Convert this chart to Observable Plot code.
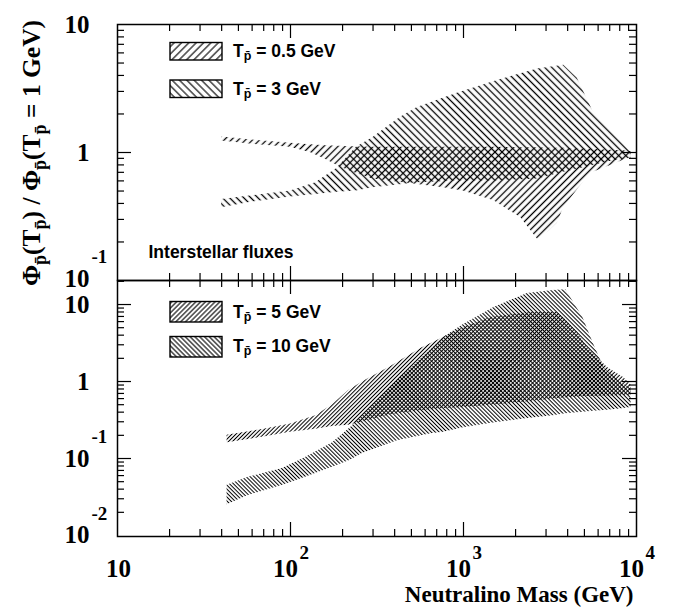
<!DOCTYPE html>
<html><head><meta charset="utf-8">
<script src="https://cdn.jsdelivr.net/npm/d3@7"></script>
<script src="https://cdn.jsdelivr.net/npm/@observablehq/plot@0.6"></script>
<style>
body{margin:0;background:#fff;}
#wrap{position:relative;width:678px;height:607px;overflow:hidden;background:#fff;}
#wrap svg{position:absolute;left:0;overflow:visible;}
</style></head><body>
<svg width="0" height="0" style="position:absolute">
<defs>
 <pattern id="hTopF" patternUnits="userSpaceOnUse" width="5" height="5" patternTransform="rotate(45)"><line x1="2.5" y1="0" x2="2.5" y2="5" stroke="#000" stroke-width="1.3"/></pattern>
 <pattern id="hTopB" patternUnits="userSpaceOnUse" width="5" height="5" patternTransform="rotate(-45)"><line x1="2.5" y1="0" x2="2.5" y2="5" stroke="#000" stroke-width="1.3"/></pattern>
 <pattern id="hBotF" patternUnits="userSpaceOnUse" width="2.8" height="2.8" patternTransform="rotate(45)"><line x1="1.4" y1="0" x2="1.4" y2="2.8" stroke="#000" stroke-width="1"/></pattern>
 <pattern id="hBotB" patternUnits="userSpaceOnUse" width="2.8" height="2.8" patternTransform="rotate(-45)"><line x1="1.4" y1="0" x2="1.4" y2="2.8" stroke="#000" stroke-width="1"/></pattern>
 <pattern id="lgTopF" patternUnits="userSpaceOnUse" width="5.2" height="5.2" patternTransform="rotate(45)"><line x1="2.6" y1="0" x2="2.6" y2="5.2" stroke="#000" stroke-width="1.1"/></pattern>
 <pattern id="lgTopB" patternUnits="userSpaceOnUse" width="5.2" height="5.2" patternTransform="rotate(-45)"><line x1="2.6" y1="0" x2="2.6" y2="5.2" stroke="#000" stroke-width="1.1"/></pattern>
 <pattern id="lgBotF" patternUnits="userSpaceOnUse" width="3.4" height="3.4" patternTransform="rotate(45)"><line x1="1.7" y1="0" x2="1.7" y2="3.4" stroke="#000" stroke-width="1.1"/></pattern>
 <pattern id="lgBotB" patternUnits="userSpaceOnUse" width="3.4" height="3.4" patternTransform="rotate(-45)"><line x1="1.7" y1="0" x2="1.7" y2="3.4" stroke="#000" stroke-width="1.1"/></pattern>
</defs></svg>
<div id="wrap"></div>
<script>
// ---------- DATA ----------
// Top panel (interstellar fluxes): ratio bands vs neutralino mass (GeV)
const massT05 = [40, 60, 100, 130, 160, 190, 230, 300, 500, 770, 1000, 1500, 2140, 2680, 3100, 3490, 3790, 4500, 5420, 7080, 8400, 9300];
const hiT05   = [1.32, 1.25, 1.18, 1.15, 1.13, 1.12, 1.11, 1.1, 1.1, 1.1, 1.1, 1.1, 1.09, 1.09, 1.08, 1.08, 1.08, 1.07, 1.06, 1.04, 1.03, 1.02];
const loT05   = [1.23, 1.16, 1.1, 1.0, 0.88, 0.78, 0.7, 0.62, 0.57, 0.53, 0.5, 0.42, 0.31, 0.21, 0.24, 0.28, 0.37, 0.5, 0.69, 0.79, 0.87, 0.9];

const massT3 = [40, 60, 100, 140, 185, 240, 300, 430, 540, 920, 1570, 2680, 3800, 4550, 5600, 7000, 8200, 9300];
const hiT3   = [0.43, 0.46, 0.5, 0.58, 0.75, 1.1, 1.31, 1.88, 2.25, 2.9, 3.65, 4.5, 4.8, 3.8, 2.1, 1.5, 1.2, 1.0];
const loT3   = [0.37, 0.41, 0.45, 0.47, 0.49, 0.5, 0.53, 0.56, 0.58, 0.6, 0.6, 0.62, 0.7, 0.74, 0.79, 0.85, 0.88, 0.9];

// Bottom panel
const massT5 = [43, 70, 100, 140, 175, 216, 263, 378, 570, 720, 810, 1000, 1430, 2440, 3490, 3790, 4500, 5210, 6790, 8420, 9300];
const hiT5   = [0.2, 0.24, 0.28, 0.36, 0.5, 0.76, 1.0, 1.55, 2.7, 3.5, 4.0, 5.0, 6.8, 7.9, 7.9, 6.8, 4.5, 2.76, 1.52, 1.13, 0.9];
const loT5   = [0.16, 0.19, 0.22, 0.24, 0.26, 0.27, 0.3, 0.37, 0.42, 0.44, 0.45, 0.46, 0.49, 0.55, 0.6, 0.61, 0.63, 0.64, 0.65, 0.66, 0.66];

const massT10 = [43, 57, 90, 122, 175, 222, 260, 415, 650, 765, 1000, 1490, 2340, 3300, 3900, 4900, 5640, 6500, 8000, 9300];
const hiT10   = [0.045, 0.057, 0.074, 0.103, 0.16, 0.25, 0.36, 1.03, 2.6, 3.7, 5.5, 9.1, 13.9, 15.2, 15.5, 6.8, 3.1, 1.5, 1.0, 0.8];
const loT10   = [0.025, 0.033, 0.045, 0.057, 0.077, 0.095, 0.116, 0.17, 0.21, 0.22, 0.25, 0.29, 0.33, 0.36, 0.38, 0.4, 0.41, 0.42, 0.44, 0.46];

// Ticks and labels
const xMajor = [100, 1000];
const xMinor = [20, 30, 40, 50, 60, 70, 80, 90, 200, 300, 400, 500, 600, 700, 800, 900, 2000, 3000, 4000, 5000, 6000, 7000, 8000, 9000];
const yMajorTop = [1];
const yMinorTop = [0.2, 0.3, 0.4, 0.5, 0.6, 0.7, 0.8, 0.9, 2, 3, 4, 5, 6, 7, 8, 9];
const yMajorBot = [0.1, 1, 10];
const yMinorBot = [0.02, 0.03, 0.04, 0.05, 0.06, 0.07, 0.08, 0.09, 0.2, 0.3, 0.4, 0.5, 0.6, 0.7, 0.8, 0.9, 2, 3, 4, 5, 6, 7, 8, 9, 20];
const xLabelPlain = [10];
const xLabelPow = [100, 1000, 10000];
const xLabelExp = ["2", "3", "4"];
const yLabelsTop = [{v: 10, base: "10", exp: ""}, {v: 1, base: "1", exp: ""}];
const yLabelsTopLow = [{v: 0.1, base: "10", exp: "-1"}];
const yLabelsBot = [{v: 10, base: "10", exp: ""}, {v: 1, base: "1", exp: ""}, {v: 0.1, base: "10", exp: "-1"}, {v: 0.01, base: "10", exp: "-2"}];
const legendTop = ["= 0.5 GeV", "= 3 GeV"];
const legendBot = ["= 5 GeV", "= 10 GeV"];

// ---------- BUILD ----------
const band = (ms, lo, hi) => ms.map((m, i) => ({m, lo: lo[i], hi: hi[i]}));
const serif = "'Liberation Serif', 'Times New Roman', serif";
const sans = "'Liberation Sans', Arial, sans-serif";
const W = 678, ML = 117, MR = 42, FH = 256;
const FW = W - ML - MR;
const MAJ = 14, MIN = 7;

function tickMarks(yMaj, yMin) {
  const sw = 1.2;
  return [
    Plot.tickX(xMinor, {x: d => d, insetBottom: FH - MIN, stroke: "#000", strokeWidth: sw}),
    Plot.tickX(xMinor, {x: d => d, insetTop: FH - MIN, stroke: "#000", strokeWidth: sw}),
    Plot.tickX(xMajor, {x: d => d, insetBottom: FH - MAJ, stroke: "#000", strokeWidth: sw}),
    Plot.tickX(xMajor, {x: d => d, insetTop: FH - MAJ, stroke: "#000", strokeWidth: sw}),
    Plot.tickY(yMin, {y: d => d, insetRight: FW - MIN, stroke: "#000", strokeWidth: sw}),
    Plot.tickY(yMin, {y: d => d, insetLeft: FW - MIN, stroke: "#000", strokeWidth: sw}),
    Plot.tickY(yMaj, {y: d => d, insetRight: FW - MAJ, stroke: "#000", strokeWidth: sw}),
    Plot.tickY(yMaj, {y: d => d, insetLeft: FW - MAJ, stroke: "#000", strokeWidth: sw})
  ];
}
function yLabelMarks(labels, shift) {
  return [
    Plot.text(labels, {y: "v", text: "base", frameAnchor: "left", textAnchor: "end", dx: -28, dy: shift,
      fontSize: 25, fontWeight: "bold", fontFamily: serif, fill: "#000"}),
    Plot.text(labels.filter(d => d.exp), {y: "v", text: "exp", frameAnchor: "left", textAnchor: "start", dx: -26, dy: shift - 22,
      fontSize: 19, fontWeight: "bold", fontFamily: serif, fill: "#000"})
  ];
}

const topPlot = Plot.plot({
  width: W, height: 280, marginLeft: ML, marginRight: MR, marginTop: 24, marginBottom: 0,
  x: {type: "log", domain: [10, 1e4], axis: null},
  y: {type: "log", domain: [0.1, 10], axis: null},
  style: {background: "transparent", overflow: "visible"},
  marks: [
    Plot.areaY(band(massT05, loT05, hiT05), {x: "m", y1: "lo", y2: "hi", fill: "url(#hTopF)"}),
    Plot.areaY(band(massT3, loT3, hiT3), {x: "m", y1: "lo", y2: "hi", fill: "url(#hTopB)"}),
    ...tickMarks(yMajorTop, yMinorTop),
    ...yLabelMarks(yLabelsTop, 0),
    ...yLabelMarks(yLabelsTopLow, -2),
    Plot.text(["Interstellar fluxes"], {frameAnchor: "bottom-left", textAnchor: "start", lineAnchor: "middle", dx: 31, dy: -28,
      fontSize: 17.5, fontWeight: "bold", fontFamily: sans, fill: "#000"}),
    Plot.frame({stroke: "#000", strokeWidth: 1.5})
  ]
});

const botPlot = Plot.plot({
  width: W, height: 327, marginLeft: ML, marginRight: MR, marginTop: 0, marginBottom: 71,
  x: {type: "log", domain: [10, 1e4], axis: null},
  y: {type: "log", domain: [Math.pow(10, -2.013), Math.pow(10, 1.312)], axis: null},
  style: {background: "transparent", overflow: "visible"},
  marks: [
    Plot.areaY(band(massT5, loT5, hiT5), {x: "m", y1: "lo", y2: "hi", fill: "url(#hBotF)"}),
    Plot.areaY(band(massT10, loT10, hiT10), {x: "m", y1: "lo", y2: "hi", fill: "url(#hBotB)"}),
    ...tickMarks(yMajorBot, yMinorBot),
    ...yLabelMarks(yLabelsBot, 0),
    Plot.text(xLabelPlain, {x: d => d, text: () => "10", frameAnchor: "bottom", lineAnchor: "middle", dx: 1, dy: 32,
      fontSize: 25, fontWeight: "bold", fontFamily: serif, fill: "#000"}),
    Plot.text(xLabelPow, {x: d => d, text: () => "10", frameAnchor: "bottom", lineAnchor: "middle", dx: -5, dy: 32,
      fontSize: 25, fontWeight: "bold", fontFamily: serif, fill: "#000"}),
    Plot.text(xLabelPow, {x: d => d, text: (d, i) => xLabelExp[i], frameAnchor: "bottom", lineAnchor: "middle", textAnchor: "start", dx: 9, dy: 16,
      fontSize: 19, fontWeight: "bold", fontFamily: serif, fill: "#000"}),
    Plot.text(["Neutralino Mass (GeV)"], {frameAnchor: "bottom-right", lineAnchor: "middle", textAnchor: "end", dx: -3, dy: 58,
      fontSize: 23, fontWeight: "bold", fontFamily: serif, fill: "#000"}),
    Plot.frame({stroke: "#000", strokeWidth: 1.5})
  ]
});

const wrap = document.getElementById("wrap");
topPlot.style.top = "0px";
botPlot.style.top = "280px";
wrap.appendChild(topPlot);
wrap.appendChild(botPlot);

// Overlay: y-axis title and legends
const ov = d3.select(wrap).append("svg").attr("width", W).attr("height", 607).style("top", "0px");
const t = ov.append("text").attr("transform", "translate(40,153) rotate(-90)")
  .attr("text-anchor", "middle").attr("font-family", serif).attr("font-weight", "bold").attr("font-size", 25.5).attr("fill", "#000");
const parts = [["Φ", 0], ["p̄", 1], ["(T", 0], ["p̄", 1], [") / Φ", 0], ["p̄", 1], ["(T", 0], ["p̄", 1], [" = 1 GeV)", 0]];
let prevSub = 0;
for (const [s, sub] of parts) {
  const ts = t.append("tspan").text(s);
  if (sub) ts.attr("font-size", 18).attr("dy", 6);
  else if (prevSub) ts.attr("dy", -6);
  prevSub = sub;
}
const legends = [
  {y: 42.5, h: 17.5, fill: "url(#lgTopF)", label: legendTop[0], ty: 51},
  {y: 80, h: 17.5, fill: "url(#lgTopB)", label: legendTop[1], ty: 88.5},
  {y: 301.5, h: 20.5, fill: "url(#lgBotF)", label: legendBot[0], ty: 312},
  {y: 336.5, h: 20.5, fill: "url(#lgBotB)", label: legendBot[1], ty: 346}
];
for (const L of legends) {
  ov.append("rect").attr("x", 170).attr("y", L.y).attr("width", 52).attr("height", L.h)
    .attr("fill", L.fill).attr("stroke", "#000").attr("stroke-width", 1.4);
  const tx = ov.append("text").attr("x", 233).attr("y", L.ty).attr("dominant-baseline", "central")
    .attr("font-family", sans).attr("font-weight", "bold").attr("font-size", 17.5).attr("fill", "#000");
  tx.append("tspan").text("T");
  tx.append("tspan").text("p̄").attr("font-size", 12.5).attr("dy", 5);
  tx.append("tspan").text(" " + L.label).attr("dy", -5);
}
</script>
</body></html>
